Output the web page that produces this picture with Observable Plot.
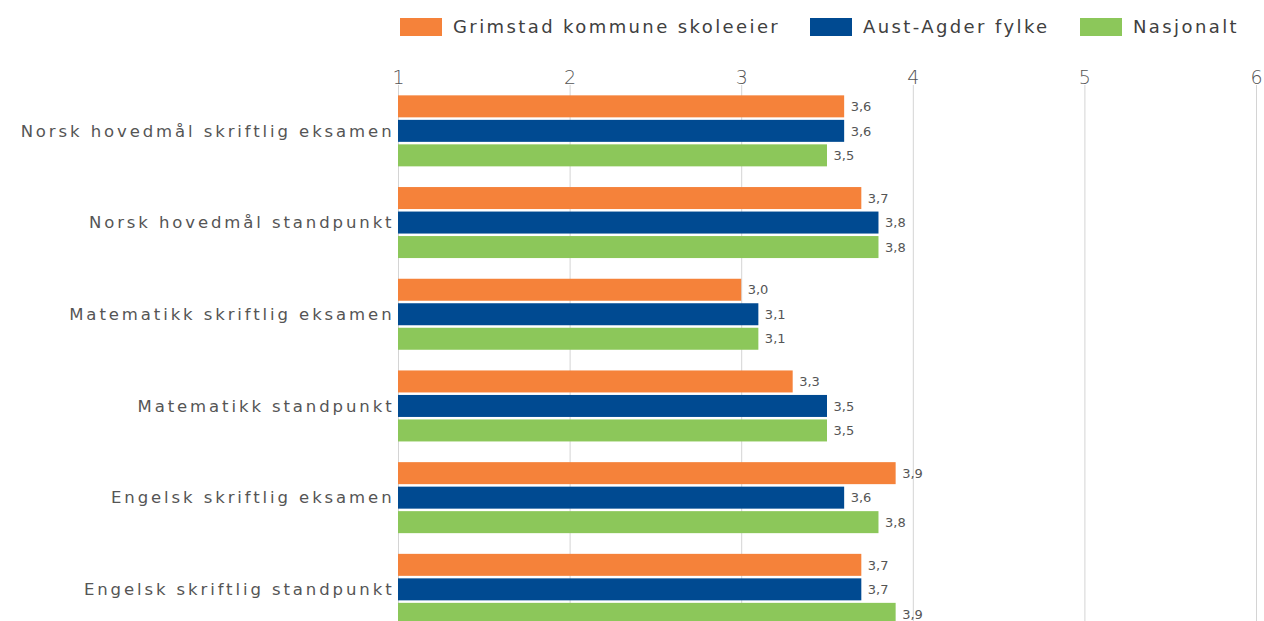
<!DOCTYPE html>
<html><head><meta charset="utf-8">
<script src="https://cdn.jsdelivr.net/npm/d3@7"></script>
<script src="https://cdn.jsdelivr.net/npm/@observablehq/plot@0.6"></script>
<style>
body{margin:0;background:#fff;overflow:hidden;font-family:"DejaVu Sans",Verdana,sans-serif;}
#legend{position:relative;height:52px;}
.item{position:absolute;top:16px;display:flex;align-items:center;font-size:18px;letter-spacing:2.4px;color:#404040;white-space:nowrap;}
.sw{width:42px;height:18px;margin-right:11px;}
</style></head><body>
<div id="legend"></div><div id="chart"></div>
<script>
const categories = [
  "Norsk hovedmål skriftlig eksamen",
  "Norsk hovedmål standpunkt",
  "Matematikk skriftlig eksamen",
  "Matematikk standpunkt",
  "Engelsk skriftlig eksamen",
  "Engelsk skriftlig standpunkt"
];
const seriesNames = ["Grimstad kommune skoleeier", "Aust-Agder fylke", "Nasjonalt"];
const grimstad  = [3.6, 3.7, 3.0, 3.3, 3.9, 3.7];
const austAgder = [3.6, 3.8, 3.1, 3.5, 3.6, 3.7];
const nasjonalt = [3.5, 3.8, 3.1, 3.5, 3.8, 3.9];
const xTicks = [1, 2, 3, 4, 5, 6];

const colors = ["#F5823A", "#004A91", "#8CC75A"];
const legendLeft = [400, 810, 1080];
const seriesValues = [grimstad, austAgder, nasjonalt];

// legend
const legend = document.getElementById("legend");
seriesNames.forEach((name, i) => {
  const it = document.createElement("div");
  it.className = "item";
  it.style.left = legendLeft[i] + "px";
  it.innerHTML = `<span class="sw" style="background:${colors[i]}"></span><span>${name}</span>`;
  legend.appendChild(it);
});

const rows = [];
seriesValues.forEach((vals, s) => vals.forEach((v, c) => rows.push({category: categories[c], series: s, value: v})));

const step = 91.7, barH = 22, off = 24.5;
const baseInset = (step - barH) / 2;
const offsets = [-off, 0, off];
const fmt = v => v.toFixed(1).replace(".", ",");

const marks = [
  Plot.gridX(xTicks, {stroke: "#d4d4d4", strokeOpacity: 1, strokeWidth: 1}),
];
seriesNames.forEach((name, s) => {
  const data = rows.filter(d => d.series === s);
  marks.push(Plot.barX(data, {
    y: "category", x1: () => xTicks[0], x2: "value", fill: colors[s],
    insetTop: baseInset + offsets[s], insetBottom: baseInset - offsets[s]
  }));
  marks.push(Plot.text(data, {
    y: "category", x: "value", text: d => fmt(d.value), dy: offsets[s], dx: 6,
    textAnchor: "start", fill: "#555", fontSize: 13, style: "letter-spacing:1.5px"
  }));
});
marks.push(Plot.axisX(xTicks, {anchor: "top", tickSize: 0, tickPadding: 6, dy: 4, fontSize: 19, fontWeight: 200, fill: "#555", tickFormat: d3.format("d"), label: null}));
marks.push(Plot.axisY({anchor: "left", tickSize: 0, tickPadding: 4, fontSize: 16.5, fill: "#555", label: null}));

const chart = Plot.plot({
  width: 1264,
  height: 600,
  marginLeft: 398,
  marginRight: 8,
  marginTop: 33,
  marginBottom: 600 - 33 - 6 * step,
  style: {fontFamily: "'DejaVu Sans', Verdana, sans-serif", background: "#fff"},
  x: {domain: [xTicks[0], xTicks[xTicks.length - 1]], axis: null},
  y: {domain: categories, padding: 0, round: false, axis: null},
  marks
});
d3.select(chart).selectAll("g[aria-label='y-axis tick label'] text").style("letter-spacing", "2.9px");
document.getElementById("chart").appendChild(chart);
</script>
</body></html>
